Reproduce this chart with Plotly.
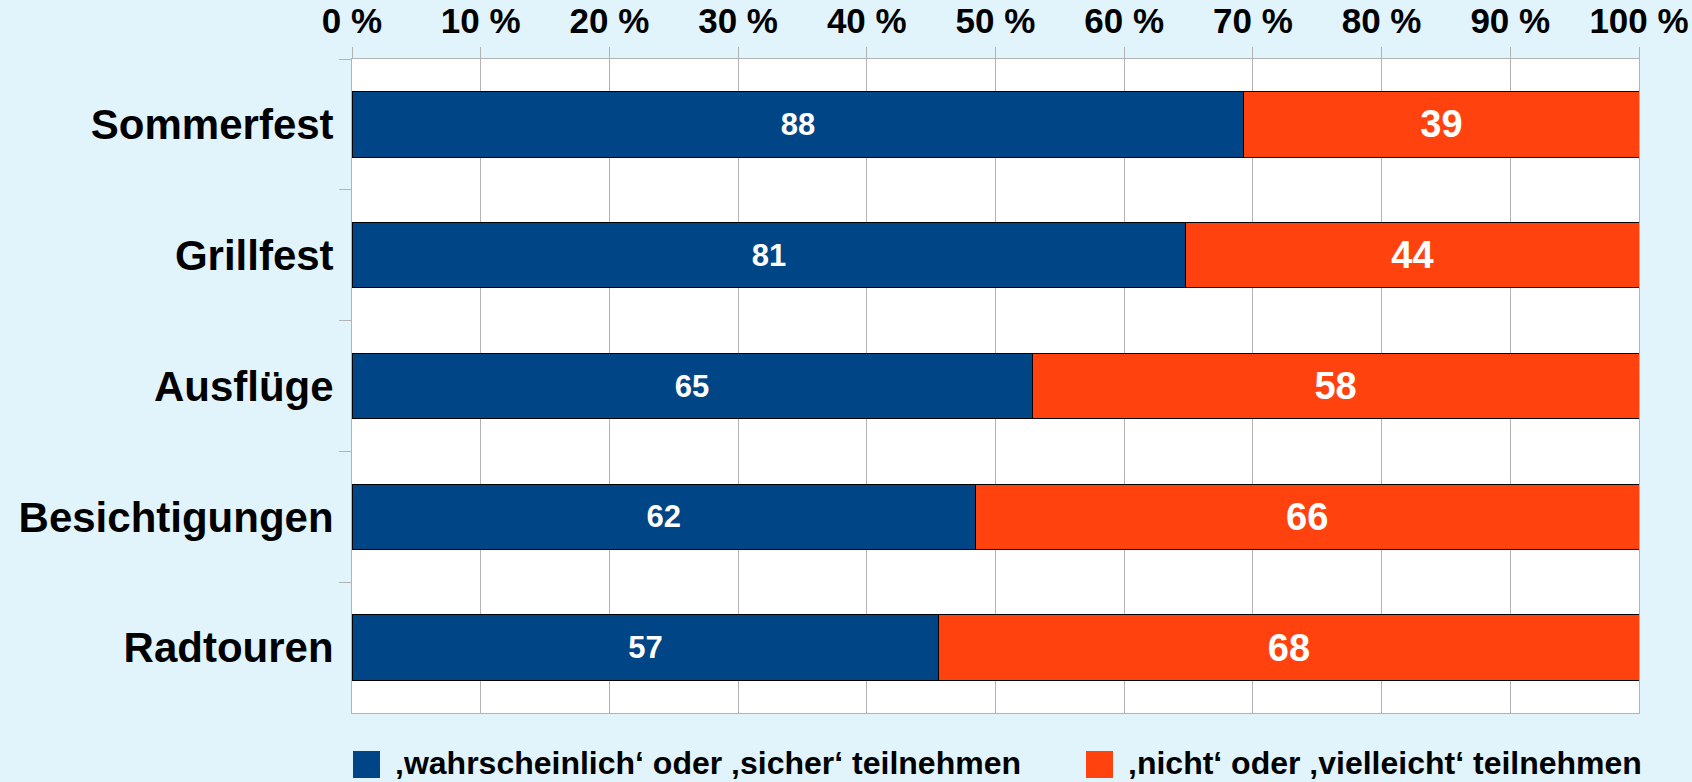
import plotly.graph_objects as go

categories = ["Sommerfest", "Grillfest", "Ausflüge", "Besichtigungen", "Radtouren"]
series_names = ["\u201awahrscheinlich\u2018 oder \u201asicher\u2018 teilnehmen",
                "\u201anicht\u2018 oder \u201avielleicht\u2018 teilnehmen"]
teilnehmen = [88, 81, 65, 62, 57]
nicht_teilnehmen = [39, 44, 58, 66, 68]
tick_values = [0, 10, 20, 30, 40, 50, 60, 70, 80, 90, 100]

BLUE = "#004586"
ORANGE = "#ff420e"
BG = "#e1f4fc"
GRID = "#b3b3b3"
FONT = "Liberation Sans"

W, H = 1692, 782
ML, MR, MT, MB = 352, 53, 59, 69

fig = go.Figure()
fig.add_trace(go.Bar(
    y=categories, x=teilnehmen, orientation="h", name=series_names[0],
    marker=dict(color=BLUE, line=dict(color="#000000", width=1)),
    text=[str(v) for v in teilnehmen], textposition="inside",
    insidetextanchor="middle", textangle=0,
    textfont=dict(family=FONT, size=31, color="white", weight="bold"),
    showlegend=False,
))
fig.add_trace(go.Bar(
    y=categories, x=nicht_teilnehmen, orientation="h", name=series_names[1],
    marker=dict(color=ORANGE, line=dict(color="#000000", width=1)),
    text=[str(v) for v in nicht_teilnehmen], textposition="inside",
    insidetextanchor="middle", textangle=0,
    textfont=dict(family=FONT, size=38, color="white", weight="bold"),
    showlegend=False,
))

fig.update_layout(
    barmode="stack", barnorm="percent", bargap=0.5,
    width=W, height=H,
    margin=dict(l=ML, r=MR, t=MT, b=MB, pad=0, autoexpand=False),
    paper_bgcolor=BG, plot_bgcolor="white",
    font=dict(family=FONT, color="black"),
    uniformtext=dict(mode=False),
)
fig.update_xaxes(
    side="top", range=[0, 100], tickvals=tick_values,
    ticktext=[f"{v} %" for v in tick_values],
    tickfont=dict(family=FONT, size=35, color="black", weight="bold"),
    showgrid=True, gridcolor=GRID, gridwidth=1,
    ticks="outside", ticklen=11, tickcolor=GRID, tickwidth=1,
    showline=True, linecolor=GRID, linewidth=1, mirror=True,
    zeroline=False, fixedrange=True, automargin=False,
)
fig.update_yaxes(
    autorange="reversed", type="category",
    tickfont=dict(family=FONT, size=42, color="black", weight="bold"),
    showgrid=False, ticks="outside", tickson="boundaries",
    ticklen=12, tickcolor=GRID, tickwidth=1,
    showline=True, linecolor=GRID, linewidth=1, mirror=True,
    ticklabelstandoff=9, zeroline=False, automargin=False,
)

# Legend drawn below the plot (paper coordinates)
pw = W - ML - MR
ph = H - MT - MB
def px(xp):
    return (xp - ML) / pw
def py(yp):
    return (H - MB - yp) / ph

legend_items = [(353, 393, BLUE, series_names[0]), (1086, 1126, ORANGE, series_names[1])]
for mx, tx, col, label in legend_items:
    fig.add_shape(type="rect", xref="paper", yref="paper",
                  x0=px(mx), x1=px(mx + 27), y0=py(751), y1=py(778),
                  fillcolor=col, line=dict(width=0))
    fig.add_annotation(xref="paper", yref="paper", x=px(tx), y=py(763),
                       xanchor="left", yanchor="middle", showarrow=False,
                       text=label,
                       font=dict(family=FONT, size=32, color="black", weight="bold"))

fig.write_html(
    "out.html",
    config={"displayModeBar": False},
    post_script="document.body.style.margin='0';document.body.style.overflow='hidden';"
                "document.body.style.background='" + BG + "';",
)
